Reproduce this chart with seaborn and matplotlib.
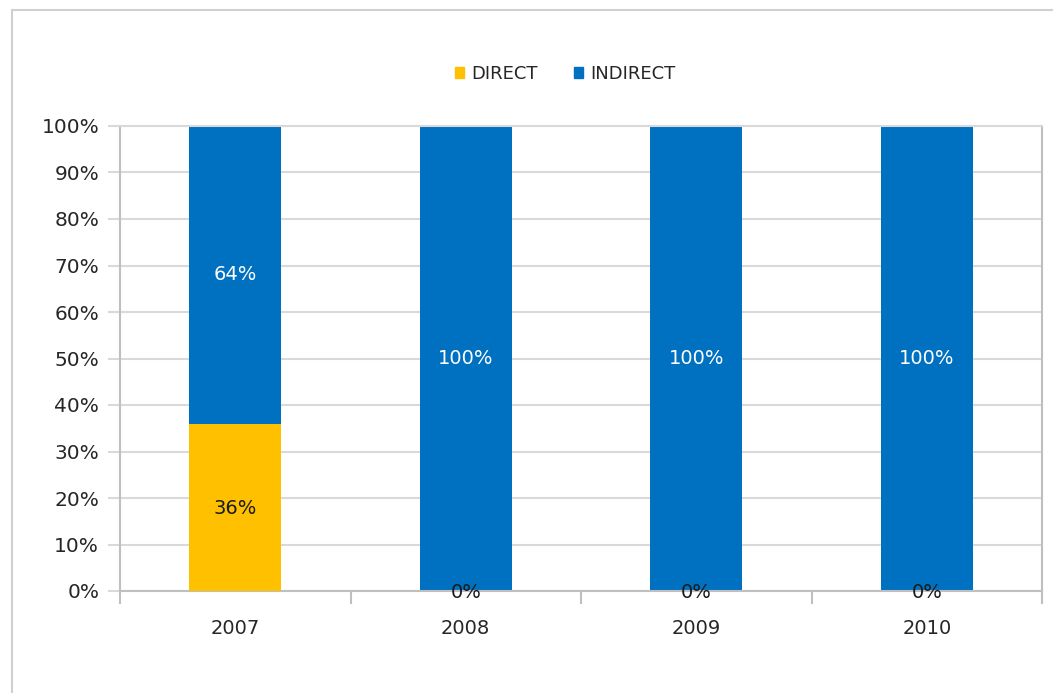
import numpy as np
import pandas as pd
import seaborn as sns
from matplotlib import pyplot as plt
from matplotlib.patches import Rectangle, Patch

years = ['2007', '2008', '2009', '2010']
direct = [36, 0, 0, 0]
indirect = [64, 100, 100, 100]

yellow = '#FFC000'
blue = '#0070C0'
grid_grey = '#D9D9D9'
axis_grey = '#BFBFBF'

sns.set_style('white')
plt.rcParams['font.family'] = ['DejaVu Sans']

df = pd.DataFrame({'year': years, 'direct': direct, 'indirect': indirect})
df['total'] = df['direct'] + df['indirect']

fig = plt.figure(figsize=(10.53, 6.93), dpi=100)
ax = fig.add_axes([120 / 1053, 1 - 591 / 693, 922 / 1053, 465 / 693])

# outer chart border
fig.patches.append(Rectangle((12 / 1053, -0.01), 1.05, 1 - 10 / 693 + 0.01,
                             transform=fig.transFigure, fill=False,
                             edgecolor='#D0D0D0', linewidth=1.5, zorder=0))

# stacked: full bar in blue, direct share drawn over the bottom
sns.barplot(data=df, x='year', y='total', color=blue, width=0.4,
            saturation=1, linewidth=0, ax=ax, zorder=2)
sns.barplot(data=df, x='year', y='direct', color=yellow, width=0.4,
            saturation=1, linewidth=0, ax=ax, zorder=3)

for i, (d, ind) in enumerate(zip(direct, indirect)):
    ax.text(i, d / 2 - 0.3, f'{d}%', ha='center', va='center', fontsize=14,
            color='#1a1a1a', zorder=5)
    ax.text(i, d + ind / 2, f'{ind}%', ha='center', va='center', fontsize=14,
            color='white', zorder=5)

ax.set_ylim(0, 100)
ax.set_xlim(-0.5, 3.5)
ax.set_yticks(np.arange(0, 101, 10))
ax.set_yticklabels([f'{v}%' for v in range(0, 101, 10)], fontsize=14.5)
ax.yaxis.grid(True, color=grid_grey, linewidth=1.5, zorder=0)
ax.set_axisbelow(True)
ax.tick_params(axis='y', left=True, length=9, color=grid_grey, width=1.5, pad=6)
ax.tick_params(axis='x', which='major', length=0, pad=20, labelsize=14)
ax.set_xticks([-0.5, 0.5, 1.5, 2.5, 3.5], minor=True)
ax.tick_params(axis='x', which='minor', bottom=True, length=9, color=axis_grey, width=1.5)
ax.set_xlabel('')
ax.set_ylabel('')

for side in ['left', 'bottom', 'right', 'top']:
    ax.spines[side].set_visible(True)
    ax.spines[side].set_color(axis_grey)
    ax.spines[side].set_linewidth(1.5)
ax.spines['top'].set_color(grid_grey)

handles = [Patch(color=yellow, label='DIRECT'), Patch(color=blue, label='INDIRECT')]
fig.legend(handles=handles, loc='center', bbox_to_anchor=(565 / 1053, 1 - 74 / 693),
           ncol=2, frameon=False, fontsize=13, handlelength=0.5, handleheight=0.5,
           handletextpad=0.4, columnspacing=2.0)

fig.savefig('out.png', dpi=100)
